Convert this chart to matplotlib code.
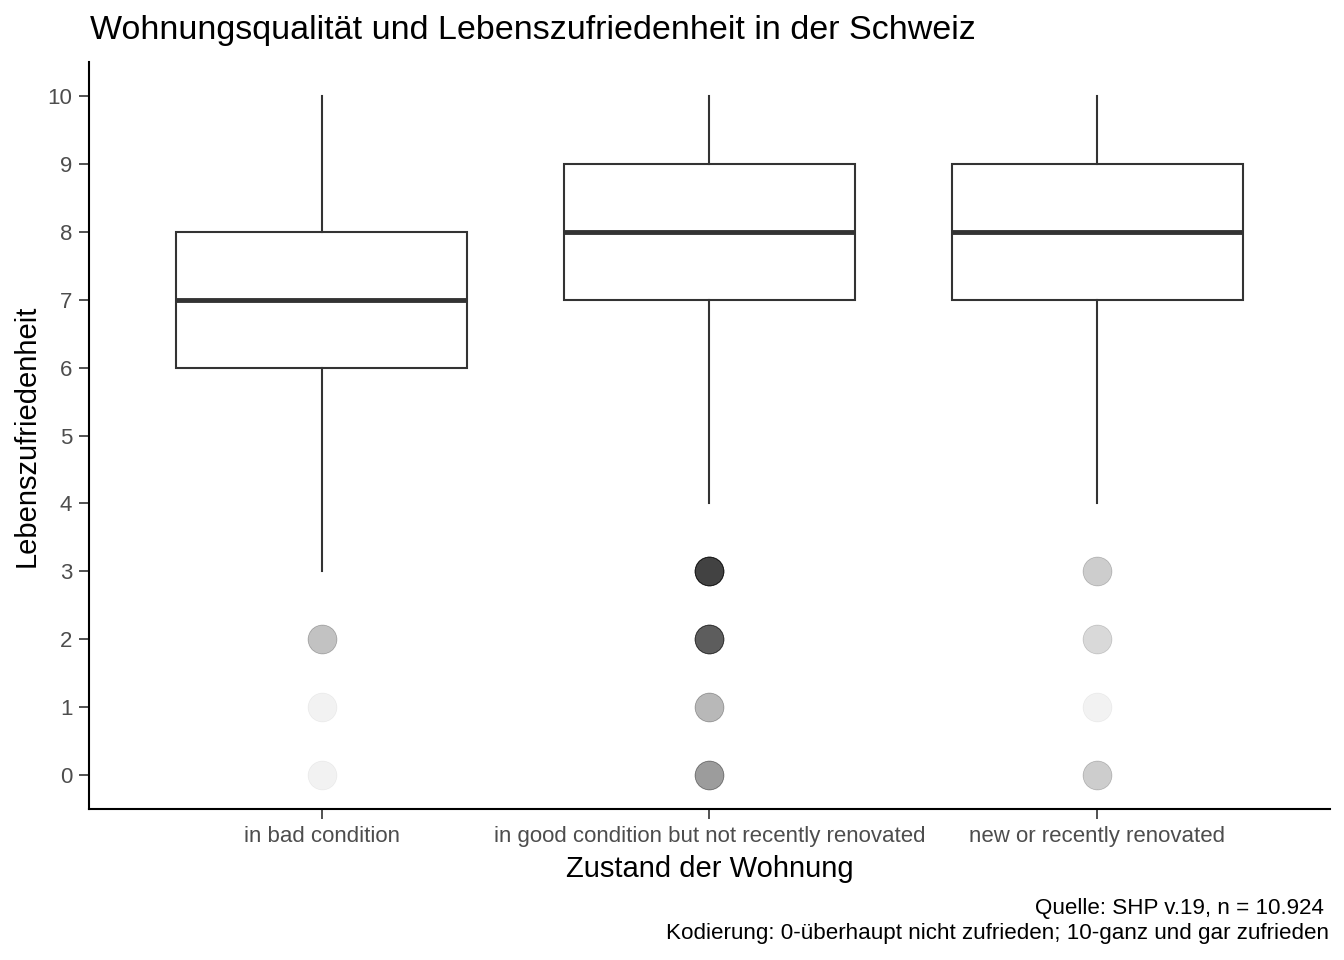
import matplotlib.pyplot as plt
import matplotlib as mpl
import numpy as np

mpl.rcParams.update({
    "font.family": ["Liberation Sans", "DejaVu Sans"],
})

categories = ["in bad condition",
              "in good condition but not recently renovated",
              "new or recently renovated"]
# box statistics
whisker_low = [3, 4, 4]
q1 = [6, 7, 7]
median = [7, 8, 8]
q3 = [8, 9, 9]
whisker_high = [10, 10, 10]

# outliers: values and estimated number of overlapping points (alpha 0.05)
outlier_values = [[2, 1, 0], [3, 2, 1, 0], [3, 2, 1, 0]]
outlier_counts = [[5, 1, 1], [24, 18, 6, 9], [4, 3, 1, 4]]

yticks = list(range(0, 11))


def main():
    fig = plt.figure(figsize=(13.44, 9.6), dpi=100)
    ax = fig.add_axes([0.0662, 0.1573, 0.9234, 0.7781])

    stats = []
    for i in range(len(categories)):
        stats.append({
            "whislo": whisker_low[i], "q1": q1[i], "med": median[i],
            "q3": q3[i], "whishi": whisker_high[i], "fliers": [],
        })
    ax.bxp(stats, positions=[1, 2, 3], widths=0.75, showcaps=False,
           patch_artist=True,
           boxprops=dict(facecolor="white", edgecolor="#333333", lw=1.5),
           medianprops=dict(color="#333333", lw=3.5, solid_capstyle="butt"),
           whiskerprops=dict(color="#333333", lw=1.5))

    for i, (vals, counts) in enumerate(zip(outlier_values, outlier_counts)):
        for v, n in zip(vals, counts):
            ax.scatter([i + 1] * n, [v] * n, s=430, color="black",
                       alpha=0.05, edgecolors="black", linewidths=0.6,
                       zorder=3)

    ax.set_xlim(0.4, 3.6)
    ax.set_ylim(-0.5, 10.5)
    ax.set_xticks([1, 2, 3])
    ax.set_xticklabels(categories)
    ax.set_yticks(yticks)
    ax.tick_params(axis="both", length=7, width=1.2, color="#333333",
                   labelsize=16, labelcolor="#4d4d4d", pad=5)
    for side in ["top", "right"]:
        ax.spines[side].set_visible(False)
    for side in ["left", "bottom"]:
        ax.spines[side].set_linewidth(1.5)
        ax.spines[side].set_color("black")

    ax.set_xlabel("Zustand der Wohnung", fontsize=21, labelpad=6)
    ax.set_ylabel("Lebenszufriedenheit", fontsize=21, labelpad=5)

    fig.text(0.067, 0.968, "Wohnungsqualität und Lebenszufriedenheit in der Schweiz",
             fontsize=24.5, ha="left", va="center")
    fig.text(0.985, 0.054, "Quelle: SHP v.19, n = 10.924",
             fontsize=16.1, ha="right", va="center")
    fig.text(0.989, 0.028,
             "Kodierung: 0-überhaupt nicht zufrieden; 10-ganz und gar zufrieden",
             fontsize=16.1, ha="right", va="center")

    fig.savefig("out.png", dpi=100)
    plt.close(fig)


if __name__ == "__main__":
    main()
